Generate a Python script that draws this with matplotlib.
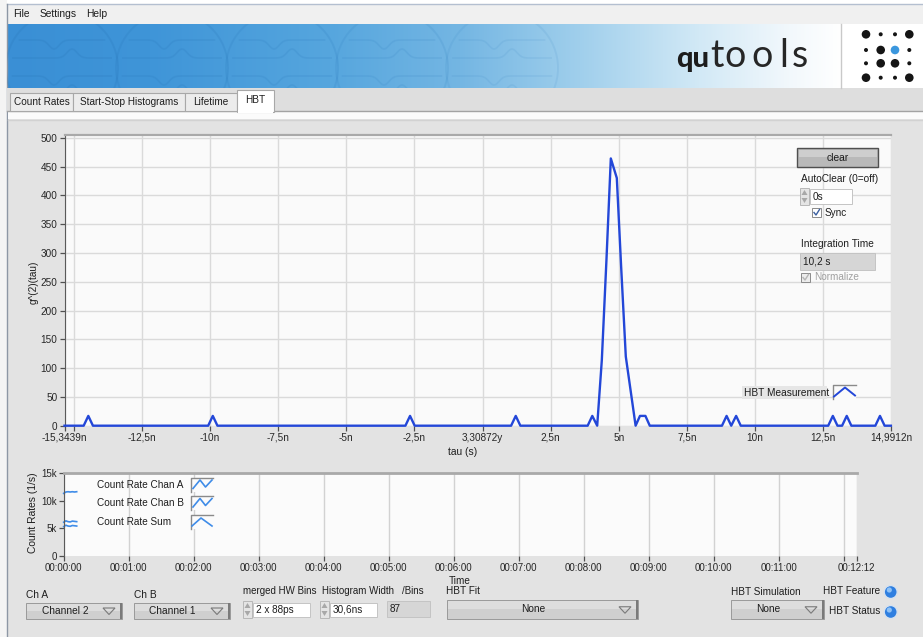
import matplotlib
matplotlib.use('Agg')
import numpy as np
from matplotlib import pyplot as plt
from matplotlib.patches import Rectangle, Circle, Polygon

plt.rcParams['font.family'] = ['Liberation Sans', 'DejaVu Sans']
plt.rcParams['font.size'] = 7.2
plt.rcParams['text.color'] = '#1e1e1e'

W, H = 923, 637

# HBT histogram g2(tau), tau in ns
tau_ns = [-15.3439,
          -14.64, -14.47, -14.30,
          -10.07, -9.90, -9.73,
          -2.83, -2.66, -2.49,
          1.05, 1.22, 1.39,
          3.86, 4.03, 4.21,
          4.38, 4.55, 4.71, 4.93, 5.09, 5.26, 5.44, 5.62,
          5.78, 5.98, 6.14,
          8.79, 8.96, 9.13, 9.31, 9.48,
          12.69, 12.86, 13.03,
          13.20, 13.37, 13.54,
          14.42, 14.59, 14.76,
          14.9912]
g2 = [0,
      0, 17, 0,
      0, 17, 0,
      0, 17, 0,
      0, 17, 0,
      0, 17, 0,
      114, 288, 464, 430, 275, 120, 60, 0,
      17, 17, 0,
      0, 17, 0, 17, 0,
      0, 17, 0,
      0, 17, 0,
      0, 17, 0,
      0]

tau_ticks = [-15.3439, -15, -12.5, -10, -7.5, -5, -2.5, 0, 2.5, 5, 7.5, 10, 12.5, 14.9912]
tau_labels = ['-15,3439n', '', '-12,5n', '-10n', '-7,5n', '-5n', '-2,5n', '3,30872y',
              '2,5n', '5n', '7,5n', '10n', '12,5n', '14,9912n']
g2_ticks = [0, 50, 100, 150, 200, 250, 300, 350, 400, 450, 500]

# count rates (1/s) over the first seconds
rate_t = [0, 2, 4, 6, 8, 10, 12]
rate_a = [6100, 6350, 6200, 6150, 6300, 6250, 6200]
rate_b = [5300, 5550, 5400, 5350, 5500, 5450, 5400]
rate_sum = [11350, 11600, 11650, 11600, 11650, 11600, 11650]

time_ticks = [0, 60, 120, 180, 240, 300, 360, 420, 480, 540, 600, 660, 720, 732]
time_labels = ['00:00:00', '00:01:00', '00:02:00', '00:03:00', '00:04:00', '00:05:00',
               '00:06:00', '00:07:00', '00:08:00', '00:09:00', '00:10:00', '00:11:00',
               '', '00:12:12']
rate_ticks = [0, 5000, 10000, 15000]
rate_labels = ['0', '5k', '10k', '15k']

fig = plt.figure(figsize=(W / 100, H / 100), dpi=100)
fig.patch.set_facecolor('#e3e3e3')


def px_axes(x0, y0, x1, y1, **kw):
    return fig.add_axes([x0 / W, 1 - y1 / H, (x1 - x0) / W, (y1 - y0) / H], **kw)


def overlay(z):
    a = px_axes(0, 0, W, H, zorder=z)
    a.set_xlim(0, W)
    a.set_ylim(H, 0)
    a.axis('off')
    return a


bg = overlay(0)

# window frame, menu bar
bg.add_patch(Rectangle((0, 0), W, H, fc='#e3e3e3', ec='none'))
bg.add_patch(Rectangle((0, 0), 7, H, fc='#f4f4f4', ec='none'))
bg.add_patch(Rectangle((7, 0), W - 7, 4, fc='#ffffff', ec='none'))
bg.add_patch(Rectangle((7, 4), W - 7, 20, fc='#f0f0f0', ec='none'))
bg.plot([7, W], [4, 4], color='#b4bfd0', lw=1)
bg.plot([7, 7], [4, H], color='#8d97a5', lw=1)
for lbl, x in [('File', 13), ('Settings', 40), ('Help', 86)]:
    bg.text(x, 14, lbl, ha='left', va='center', fontsize=7.4)

# banner gradient
stops_x = [7, 150, 330, 460, 580, 700, 790, 841]
stops_c = ['#3a8fd5', '#3f95d8', '#56a6de', '#74b6e3', '#a0cfec', '#d2e9f6', '#f2f8fc', '#ffffff']
rgb = np.array([matplotlib.colors.to_rgb(c) for c in stops_c])
gx = np.linspace(7, 841, 600)
grad = np.stack([np.interp(gx, stops_x, rgb[:, k]) for k in range(3)], axis=-1)[None, :, :]
bg.imshow(grad, extent=(7, 841, 88, 24), aspect='auto', zorder=1)
bg.set_xlim(0, W)
bg.set_ylim(H, 0)
banner = Rectangle((7, 24), 834, 64, transform=bg.transData)
for i, cx in enumerate([62, 172, 282, 392, 502]):
    al = 0.24 - 0.035 * i
    c = Circle((cx, 68), 56, fill=False, ec='#2a78bb', lw=1.4, alpha=al, zorder=2)
    bg.add_patch(c)
    c.set_clip_path(banner)
    for k, yy in enumerate([40, 58, 76, 94]):
        half = np.sqrt(max(56 ** 2 - (yy - 68) ** 2, 0)) - 6
        xs = np.linspace(cx - half, cx + half, 80)
        sgn = 1 if k % 2 == 0 else -1
        ys = yy + sgn * 9 * np.exp(-((xs - cx - (10 if k % 2 else -8)) / 7) ** 2)
        ln, = bg.plot(xs, ys, color='#2a78bb', lw=1.2, alpha=al, zorder=2)
        ln.set_clip_path(banner)

# logo
bg.add_patch(Rectangle((841, 24), W - 841, 64, fc='#ffffff', ec='none', zorder=2))
bg.plot([841, 841], [24, 88], color='#c9c9c9', lw=1, zorder=3)
bg.text(709, 66.7, 'qu', ha='right', va='baseline', fontsize=21, fontweight='black',
        family=['Lato', 'DejaVu Sans'], color='#1c1c1c', zorder=3)
for ch, x in [('t', 717), ('o', 735), ('o', 762.5), ('l', 783.5), ('s', 799.5)]:
    bg.text(x, 66.7, ch, ha='center', va='baseline', fontsize=27, fontweight='normal',
            family=['Lato', 'DejaVu Sans'], color='#262626', zorder=3)
dot_x = [866, 880.7, 895, 909.3]
dot_y = [34.3, 50, 63.3, 77.7]
big = [[1, 0, 0, 1], [0, 1, 2, 0], [0, 1, 1, 0], [1, 0, 0, 1]]
for r, yy in enumerate(dot_y):
    for c, xx in enumerate(dot_x):
        kind = big[r][c]
        rad = 2.0 if kind == 0 else 4.3
        col = '#3b97de' if kind == 2 else '#151515'
        bg.add_patch(Circle((xx, yy), rad, fc=col, ec='none', zorder=3))

# tab row
bg.add_patch(Rectangle((7, 88), W - 7, 24, fc='#dedede', ec='none', zorder=2))
bg.plot([7, W], [111, 111], color='#a3a3a3', lw=1, zorder=3)
bg.add_patch(Rectangle((8, 112), W - 8, 7, fc='#fbfbfb', ec='none', zorder=2))
bg.plot([8, W], [120, 120], color='#d2d2d2', lw=1, zorder=3)
for lbl, x0, x1 in [('Count Rates', 10, 73), ('Start-Stop Histograms', 73, 185),
                    ('Lifetime', 185, 237)]:
    bg.add_patch(Rectangle((x0, 93), x1 - x0, 18, fc='#ececec', ec='#a8a8a8', lw=0.8, zorder=3))
    bg.text((x0 + x1) / 2, 102, lbl, ha='center', va='center', fontsize=7.2, zorder=4)
bg.add_patch(Rectangle((237, 90), 37, 22, fc='#ffffff', ec='#a8a8a8', lw=0.8, zorder=4))
bg.add_patch(Rectangle((237.6, 110), 35.8, 3, fc='#ffffff', ec='none', zorder=5))
bg.text(255.5, 100, 'HBT', ha='center', va='center', fontsize=7.2, zorder=6)

# main histogram plot
ax = px_axes(64.5, 135, 890.9, 425.7, zorder=2)
ax.set_facecolor('#fafafa')
ax.plot(tau_ns, g2, color='#2347d8', lw=1.7, clip_on=False, zorder=3)
ax.set_xlim(-15.3439, 14.9912)
ax.set_ylim(0, 504.7)
ax.set_xticks(tau_ticks)
ax.set_xticklabels(tau_labels)
ax.set_yticks(g2_ticks)
ax.grid(color='#dadada', lw=1)
ax.set_axisbelow(True)
ax.tick_params(axis='both', direction='out', length=3.5, width=0.9, color='#505050',
               labelsize=7.2, labelcolor='#262626', pad=1.5)
for s in ['bottom', 'right']:
    ax.spines[s].set_visible(False)
ax.spines['left'].set_color('#5a5a5a')
ax.spines['top'].set_color('#a9a9a9')
ax.spines['top'].set_linewidth(1.6)

# count rate chart
ax2 = px_axes(63.7, 472.5, 856.7, 555.7, zorder=2)
ax2.set_facecolor('#fbfbfb')
for vals in (rate_sum, rate_a, rate_b):
    ax2.plot(rate_t, vals, color='#3f8ce8', lw=1.2, clip_on=False)
ax2.set_xlim(0, 732)
ax2.set_ylim(0, 15150)
ax2.set_xticks(time_ticks)
ax2.set_xticklabels(time_labels)
ax2.set_yticks(rate_ticks)
ax2.set_yticklabels(rate_labels)
ax2.grid(axis='x', color='#d2d2d2', lw=1)
ax2.set_axisbelow(True)
ax2.tick_params(axis='both', direction='out', length=3.5, width=0.9, color='#505050',
                labelsize=7.0, labelcolor='#262626', pad=1.5)
for s in ['bottom', 'right']:
    ax2.spines[s].set_visible(False)
ax2.spines['left'].set_color('#5a5a5a')
ax2.spines['top'].set_color('#a9a9a9')
ax2.spines['top'].set_linewidth(2)

fg = overlay(5)

# axis titles
fg.text(34, 282, 'g^(2)(tau)', rotation=90, ha='center', va='center', fontsize=7.2)
fg.text(463, 452, 'tau (s)', ha='center', va='center', fontsize=7.4)
fg.text(33, 513, 'Count Rates (1/s)', rotation=90, ha='center', va='center', fontsize=7.4)


def legend_icon(x0, y0, pts):
    fg.add_patch(Rectangle((x0, y0), 22, 14, fc='#fbfbfb', ec='none'))
    fg.plot([x0, x0, x0 + 22], [y0 + 14, y0, y0], color='#8a8a8a', lw=1)
    fg.plot([x0 + p[0] for p in pts], [y0 + p[1] for p in pts], color='#3f8ce8', lw=1.2)


zig = [(2, 11), (9, 2.5), (14.5, 9.5), (21, 2.5)]
caret = [(1, 11), (10, 3), (21, 11)]
for lbl, y in [('Count Rate Chan A', 485), ('Count Rate Chan B', 503.5), ('Count Rate Sum', 522)]:
    fg.text(97, y, lbl, ha='left', va='center', fontsize=7.2)
legend_icon(191, 477.5, zig)
legend_icon(191, 496, zig)
legend_icon(191, 515, caret)

# main plot legend
fg.add_patch(Rectangle((741.5, 385.5), 85, 13.5, fc='#e6e6e6', ec='none'))
fg.text(743.5, 392.5, 'HBT Measurement', ha='left', va='center', fontsize=7.3)
fg.add_patch(Rectangle((833, 385), 23, 14, fc='#fafafa', ec='none'))
fg.plot([833, 833, 856], [399, 385, 385], color='#8a8a8a', lw=1)
fg.plot([834, 845, 855], [396.5, 387.5, 395.5], color='#2347d8', lw=1.4)


def spin(x, y0, y1):
    fg.add_patch(Rectangle((x, y0), 9, y1 - y0, fc='#e4e4e4', ec='#b7b7b7', lw=0.7))
    ym = (y0 + y1) / 2
    fg.add_patch(Polygon([(x + 1.5, ym - 1.5), (x + 7.5, ym - 1.5), (x + 4.5, y0 + 2)],
                         fc='#a8a8a8', ec='none'))
    fg.add_patch(Polygon([(x + 1.5, ym + 1.5), (x + 7.5, ym + 1.5), (x + 4.5, y1 - 2)],
                         fc='#a8a8a8', ec='none'))


def text_box(x0, x1, y0, y1, txt, fc='#ffffff'):
    fg.add_patch(Rectangle((x0, y0), x1 - x0, y1 - y0, fc=fc, ec='#c4c4c4', lw=0.7))
    fg.text(x0 + 3, (y0 + y1) / 2, txt, ha='left', va='center', fontsize=7.2)


def checkbox(x, y, txt, on_col='#1e1e1e', fc='#ffffff'):
    fg.add_patch(Rectangle((x, y), 9, 9, fc=fc, ec='#8a8a8a', lw=0.7))
    tick_col = '#3a5fa0' if fc == '#ffffff' else '#b5b5b5'
    fg.plot([x + 2, x + 4, x + 7.5], [y + 4.5, y + 7, y + 1.5], color=tick_col, lw=1)
    fg.text(x + 13, y + 4.5, txt, ha='left', va='center', fontsize=7.2, color=on_col)


# controls on the histogram
fg.add_patch(Rectangle((797, 148), 81, 19, fc='#b9b9b9', ec='#4f4f4f', lw=1))
fg.add_patch(Rectangle((798.5, 149.5), 78, 7, fc='#cecece', ec='none'))
fg.text(837.5, 158, 'clear', ha='center', va='center', fontsize=7.4)
fg.text(801, 178.5, 'AutoClear (0=off)', ha='left', va='center', fontsize=7.3)
spin(800, 188, 205)
text_box(810, 852, 189, 204, '0s')
checkbox(812, 208, 'Sync')
fg.text(801, 244, 'Integration Time', ha='left', va='center', fontsize=7.3)
text_box(800, 875, 253, 270, '10,2 s', fc='#d6d6d6')
checkbox(801, 273, 'Normalize', on_col='#a0a0a0', fc='#ececec')


def dropdown(x0, x1, y0, y1, txt, tx):
    fg.add_patch(Rectangle((x0, y0), x1 - x0, y1 - y0, fc='#cfcfcf', ec='#9a9a9a', lw=0.7))
    fg.add_patch(Rectangle((x0 + 1, y0 + 1), x1 - x0 - 2, (y1 - y0) / 2 - 1, fc='#dddddd', ec='none'))
    fg.add_patch(Rectangle((x1 - 2.5, y0), 2.5, y1 - y0, fc='#7a7a7a', ec='none'))
    fg.text(tx, (y0 + y1) / 2, txt, ha='center', va='center', fontsize=7.3)
    ax_ = x1 - 13
    ym = (y0 + y1) / 2
    fg.add_patch(Polygon([(ax_ - 6, ym - 2.5), (ax_ + 6, ym - 2.5), (ax_, ym + 4)],
                         fill=False, ec='#7a7a7a', lw=0.8))


fg.text(26, 594.5, 'Ch A', ha='left', va='center', fontsize=7.3)
dropdown(26, 122, 602.5, 618.5, 'Channel 2', 65)
fg.text(134, 594.5, 'Ch B', ha='left', va='center', fontsize=7.3)
dropdown(134, 230, 602.5, 618.5, 'Channel 1', 172)

fg.text(243, 590.5, 'merged HW Bins', ha='left', va='center', fontsize=7.0)
spin(243, 601, 618)
text_box(253, 310, 603, 617, '2 x 88ps')
fg.text(322, 590.5, 'Histogram Width', ha='left', va='center', fontsize=7.0)
spin(320, 601, 618)
text_box(330, 377, 603, 617, '30,6ns')
fg.text(402, 590.5, '/Bins', ha='left', va='center', fontsize=7.0)
text_box(387, 430, 601, 617, '87', fc='#d6d6d6')

fg.text(460, 581.5, 'Time', ha='center', va='center', fontsize=7.2)
fg.text(463, 591, 'HBT Fit', ha='center', va='center', fontsize=7.2)
dropdown(447, 638, 600, 618.5, 'None', 533)

fg.text(731, 592, 'HBT Simulation', ha='left', va='center', fontsize=7.2)
dropdown(731, 824, 600, 618.5, 'None', 768)

for lbl, y in [('HBT Feature', 591), ('HBT Status', 611)]:
    fg.text(880, y, lbl, ha='right', va='center', fontsize=7.2)
    fg.add_patch(Circle((890.7, y + 1), 6.5, fc='#2f7fe0', ec='#d7e2ee', lw=1))
    fg.add_patch(Circle((889.3, y - 1), 2.6, fc='#8fc2f6', ec='none'))

plt.savefig('out.png', dpi=100, facecolor=fig.get_facecolor())
